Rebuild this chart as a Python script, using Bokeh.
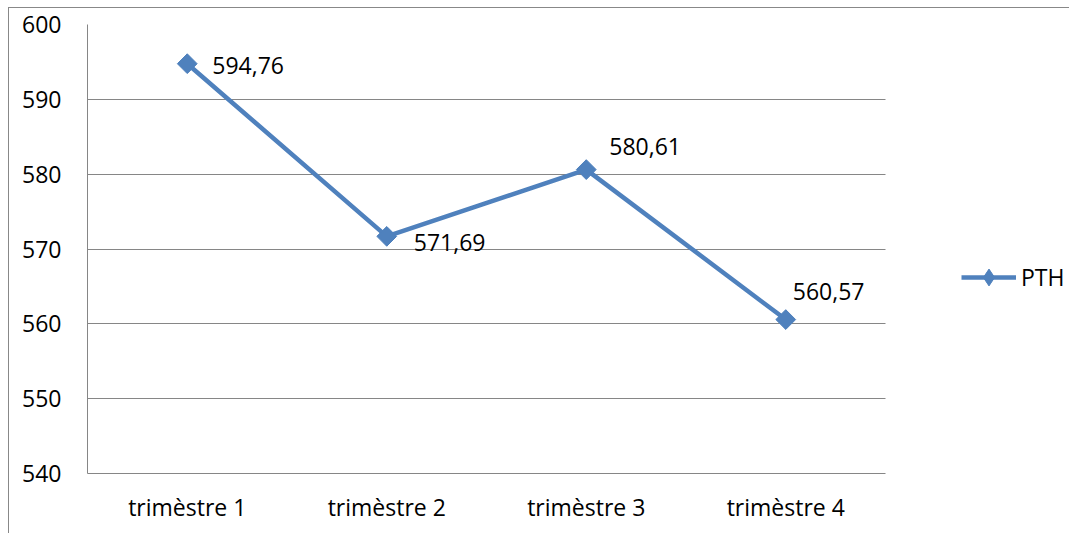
import math
from bokeh.plotting import figure
from bokeh.models import ColumnDataSource, FixedTicker, Legend, LegendItem, Range1d
from bokeh.core.properties import value
from bokeh.embed import file_html
from bokeh.resources import INLINE

categories = ["trimèstre 1", "trimèstre 2", "trimèstre 3", "trimèstre 4"]
pth = [594.76, 571.69, 580.61, 560.57]
y_ticks = [540, 550, 560, 570, 580, 590, 600]

# label placement (pixels, relative to each point)
label_dx = [25, 27, 23, 7]
label_dy = [2, 6, -23, -28]

FONT = "Open Sans"
FS = "23px"
BLUE = "#4F81BD"
GRID = "#868686"

n = len(categories)
xpos = [i + 0.5 for i in range(n)]
labels = [f"{v:.2f}".replace(".", ",") for v in pth]
src = ColumnDataSource(dict(x=xpos, y=pth, lab=labels, dx=label_dx, dy=label_dy))

# plot area of the categories is 798 px; the frame continues to the right edge (983 px)
x_end = n * 983 / 798
p = figure(width=1061, height=526, x_range=Range1d(0, x_end), y_range=Range1d(540, 600),
           output_backend="svg", toolbar_location=None,
           min_border_left=78, min_border_top=16, min_border_right=0, min_border_bottom=61)
p.margin = (7, 0, 0, 8)
p.styles = {"border-left": "1px solid #888888", "border-top": "1px solid #888888"}
p.outline_line_color = None
p.background_fill_color = "white"
p.border_fill_color = "white"

p.xgrid.grid_line_color = None
p.ygrid.grid_line_color = GRID
p.ygrid.grid_line_width = 1
p.ygrid.cross_bounds = (0, n)
p.yaxis.ticker = FixedTicker(ticks=y_ticks)
p.xaxis.ticker = FixedTicker(ticks=xpos)
p.xaxis.major_label_overrides = {x: c for x, c in zip(xpos, categories)}
p.xaxis.bounds = (0, n)

for ax in (p.xaxis[0], p.yaxis[0]):
    ax.axis_line_color = GRID
    ax.axis_line_width = 1
    ax.major_tick_line_color = None
    ax.minor_tick_line_color = None
    ax.major_label_text_font = FONT
    ax.major_label_text_font_size = FS
    ax.major_label_text_color = "black"
p.yaxis.major_label_standoff = 20
p.xaxis.major_label_standoff = 11

ln = p.line("x", "y", source=src, line_color=BLUE, line_width=4.5)
# diamond used for the legend symbol (hidden under the rotated squares on the plot)
dia = p.scatter("x", "y", source=src, marker="diamond", size=18,
                fill_color=BLUE, line_color=BLUE)
sc = p.scatter("x", "y", source=src, marker="square", size=14, angle=math.pi / 4,
               fill_color=BLUE, line_color=BLUE)

p.text("x", "y", text="lab", source=src, x_offset="dx", y_offset="dy",
       text_font=value(FONT), text_font_size=FS, text_color="black",
       text_align="left", text_baseline="middle")

legend = Legend(items=[LegendItem(label="PTH", renderers=[ln, dia])],
                location=(874, 175), padding=0, margin=0, spacing=0,
                glyph_width=55, glyph_height=42, label_height=42, label_standoff=5,
                border_line_color=None, background_fill_alpha=0,
                label_text_font=FONT, label_text_font_size=FS, label_text_color="black")
p.add_layout(legend, "center")

open("out.html", "w").write(file_html(p, INLINE))
